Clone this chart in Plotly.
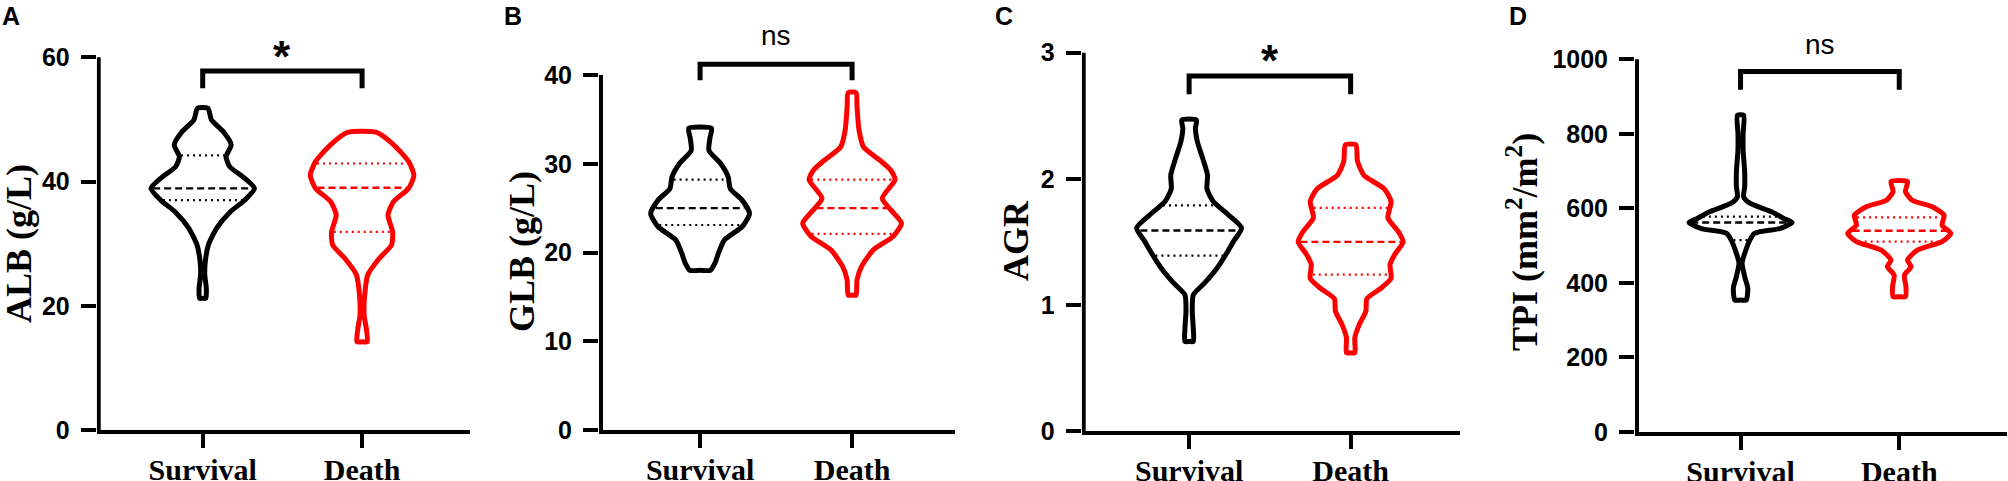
import numpy as np
import plotly.graph_objects as go

W, H = 2008, 481

GROUPS = ['Survival', 'Death']
COLORS = ['#000000', '#ff0000']

# violin outlines: value levels and relative half-width (1 = widest)
ALB_SURV_Y = [21.2, 22.8, 25.0, 27.1, 29.8, 32.5, 35.1, 37.0, 38.9, 40.8, 42.4, 44.0, 45.9, 48.0, 49.9, 51.8]
ALB_SURV_W = [0.06, 0.07, 0.04, 0.05, 0.11, 0.27, 0.53, 0.81, 1.00, 0.77, 0.52, 0.45, 0.55, 0.40, 0.17, 0.10]
ALB_DEATH_Y = [14.2, 16.4, 18.5, 21.7, 25.0, 27.6, 29.8, 31.9, 34.6, 36.8, 38.9, 41.0, 43.2, 45.9, 47.9]
ALB_DEATH_W = [0.10, 0.08, 0.04, 0.05, 0.11, 0.33, 0.57, 0.59, 0.50, 0.61, 0.90, 1.00, 0.90, 0.61, 0.28]
ALB_SURV_Q = [37.0, 38.9, 44.2]
ALB_DEATH_Q = [31.9, 39.0, 42.9]

GLB_SURV_Y = [18.0, 18.8, 19.9, 21.4, 22.9, 24.4, 25.9, 27.2, 28.5, 30.0, 31.5, 32.9, 34.0]
GLB_SURV_W = [0.21, 0.30, 0.37, 0.49, 0.85, 1.00, 0.85, 0.61, 0.57, 0.42, 0.18, 0.20, 0.23]
GLB_DEATH_Y = [15.2, 16.9, 18.4, 20.3, 21.8, 23.3, 24.4, 26.1, 28.2, 29.3, 30.4, 31.9, 33.8, 36.4, 38.0]
GLB_DEATH_W = [0.08, 0.10, 0.19, 0.43, 0.83, 1.00, 0.85, 0.61, 0.87, 0.78, 0.56, 0.23, 0.14, 0.10, 0.08]
GLB_SURV_Q = [23.1, 25.0, 28.2]
GLB_DEATH_Q = [22.1, 25.0, 28.2]

AGR_SURV_Y = [0.71, 0.81, 0.95, 1.08, 1.18, 1.29, 1.40, 1.50, 1.61, 1.71, 1.82, 1.92, 2.03, 2.16, 2.29, 2.40, 2.466]
AGR_SURV_W = [0.08, 0.08, 0.06, 0.08, 0.31, 0.53, 0.70, 0.84, 1.00, 0.76, 0.46, 0.34, 0.35, 0.26, 0.16, 0.12, 0.14]
AGR_DEATH_Y = [0.62, 0.74, 0.84, 0.95, 1.05, 1.13, 1.21, 1.32, 1.40, 1.50, 1.58, 1.69, 1.82, 1.92, 2.03, 2.14, 2.27]
AGR_DEATH_W = [0.08, 0.08, 0.16, 0.29, 0.31, 0.57, 0.77, 0.75, 0.84, 1.00, 0.91, 0.71, 0.77, 0.64, 0.25, 0.13, 0.10]
AGR_SURV_Q = [1.39, 1.59, 1.79]
AGR_DEATH_Q = [1.24, 1.50, 1.77]

TPI_SURV_Y = [354, 386, 417, 453, 479, 515, 533, 546, 562, 573, 591, 614, 631, 658, 698, 757, 801, 850]
TPI_SURV_W = [0.11, 0.14, 0.08, 0.03, 0.08, 0.18, 0.27, 0.76, 1.00, 0.84, 0.60, 0.18, 0.06, 0.08, 0.08, 0.05, 0.05, 0.06]
TPI_DEATH_Y = [363, 390, 421, 444, 461, 488, 511, 533, 555, 582, 605, 622, 645, 672]
TPI_DEATH_W = [0.12, 0.13, 0.10, 0.23, 0.16, 0.35, 0.83, 1.00, 0.83, 0.87, 0.63, 0.25, 0.12, 0.16]
TPI_SURV_Q = [515, 562, 578]
TPI_DEATH_Q = [511, 540, 576]

panels = [
    dict(letter='A', title='ALB (g/L)', ticks=[0, 20, 40, 60], sig='*', bracket=(55.0, 57.8), sig_y=61.7,
         groups=[(ALB_SURV_Y, ALB_SURV_W, ALB_SURV_Q), (ALB_DEATH_Y, ALB_DEATH_W, ALB_DEATH_Q)],
         px=(96.7, 470), bottom=430, ppu=6.212, title_px=(19, 244), letter_x=0),
    dict(letter='B', title='GLB (g/L)', ticks=[0, 10, 20, 30, 40], sig='ns', bracket=(39.4, 41.2), sig_y=44.3,
         groups=[(GLB_SURV_Y, GLB_SURV_W, GLB_SURV_Q), (GLB_DEATH_Y, GLB_DEATH_W, GLB_DEATH_Q)],
         px=(599, 955), bottom=430, ppu=8.875, title_px=(522, 252), letter_x=502),
    dict(letter='C', title='AGR', ticks=[0, 1, 2, 3], sig='*', bracket=(2.67, 2.815), sig_y=3.02,
         groups=[(AGR_SURV_Y, AGR_SURV_W, AGR_SURV_Q), (AGR_DEATH_Y, AGR_DEATH_W, AGR_DEATH_Q)],
         px=(1081.7, 1460), bottom=431, ppu=126.1, title_px=(1016, 241), letter_x=993),
    dict(letter='D', title='TPI (mm<sup>2</sup>/m<sup>2</sup>)', ticks=[0, 200, 400, 600, 800, 1000], sig='ns',
         bracket=(918, 967), sig_y=1038,
         groups=[(TPI_SURV_Y, TPI_SURV_W, TPI_SURV_Q), (TPI_DEATH_Y, TPI_DEATH_W, TPI_DEATH_Q)],
         px=(1635, 2006.7), bottom=432, ppu=0.3727, title_px=(1522, 242), letter_x=1507),
]

XMIN, XMAX = -0.665, 1.677
MAXW = 0.325
SANS = 'Liberation Sans'
SERIF = 'Liberation Serif'
AXW = 4

fig = go.Figure()
shapes = []
annotations = []

for k, p in enumerate(panels):
    n = '' if k == 0 else str(k + 1)
    xa, ya = 'x' + n, 'y' + n

    for i, (vy, vw, q) in enumerate(p['groups']):
        ys = np.array(vy, dtype=float)
        ws = np.array(vw) * MAXW
        xs = np.concatenate([[i], i + ws, i - ws[::-1], [i]])
        yy = np.concatenate([[ys[0]], ys, ys[::-1], [ys[0]]])
        fig.add_trace(go.Scatter(
            x=xs, y=yy, mode='lines', xaxis=xa, yaxis=ya,
            line=dict(color=COLORS[i], width=5, shape='spline', smoothing=0.6),
            hoverinfo='skip'
        ))
        # quartile and median lines
        for j, qv in enumerate(q):
            half = np.interp(qv, ys, ws) - 0.014
            fig.add_trace(go.Scatter(
                x=[i - half, i + half], y=[qv, qv], mode='lines', xaxis=xa, yaxis=ya,
                line=dict(color=COLORS[i], width=2.4 if j == 1 else 2.2,
                          dash='7px,4px' if j == 1 else '2px,4px'),
                hoverinfo='skip'
            ))

    x0, x1 = p['px']
    ppx = (x1 - x0) / (XMAX - XMIN)
    ytop = p['bottom'] / p['ppu']

    fig.layout['xaxis' + n] = dict(
        domain=[x0 / W, x1 / W], range=[XMIN, XMAX], anchor=ya, automargin=False,
        tickvals=[0, 1], ticktext=GROUPS, ticks='outside', ticklen=14, tickwidth=AXW,
        tickcolor='black', showline=True, linewidth=AXW, linecolor='black',
        showgrid=False, zeroline=False, ticklabelstandoff=-4,
        tickfont=dict(family=SERIF, size=30, color='black', weight='bold'),
    )
    fig.layout['yaxis' + n] = dict(
        domain=[(H - p['bottom']) / H, 1], range=[0, ytop], anchor=xa, automargin=False,
        tickvals=p['ticks'], ticks='outside', ticklen=15, tickwidth=AXW, tickcolor='black',
        showline=False, showgrid=False, zeroline=False, ticklabelstandoff=6,
        tickfont=dict(family=SANS, size=25, color='black', weight='bold'),
    )

    # y axis line only up to the last tick
    shapes.append(dict(type='line', xref=xa, yref=ya, x0=XMIN + 2 / ppx, x1=XMIN + 2 / ppx,
                       y0=0, y1=p['ticks'][-1], line=dict(color='black', width=AXW)))
    lo, hi = p['bracket']
    shapes.append(dict(type='path', xref=xa, yref=ya,
                       path=f'M 0,{lo} L 0,{hi} L 1,{hi} L 1,{lo}',
                       line=dict(color='black', width=5)))

    if p['sig'] == '*':
        sig_font = dict(family=SANS, size=44, color='black', weight='bold')
        shift = -10
    else:
        sig_font = dict(family=SANS, size=28, color='black')
        shift = 1
    annotations.append(dict(xref=xa, yref=ya, x=0.5, y=p['sig_y'], text=p['sig'], yshift=shift,
                            showarrow=False, xanchor='center', yanchor='middle', font=sig_font))

    tx, ty = p['title_px']
    annotations.append(dict(xref='paper', yref='paper', x=tx / W, y=1 - ty / H, text=p['title'],
                            textangle=-90, showarrow=False, xanchor='center', yanchor='middle',
                            borderpad=0, font=dict(family=SERIF, size=36, color='black', weight='bold')))
    annotations.append(dict(xref='paper', yref='paper', x=p['letter_x'] / W, y=1, text=p['letter'],
                            showarrow=False, xanchor='left', yanchor='top',
                            font=dict(family=SANS, size=25, color='black', weight='bold')))

fig.update_layout(
    width=W, height=H,
    margin=dict(l=0, r=0, t=0, b=0),
    plot_bgcolor='white', paper_bgcolor='white',
    showlegend=False,
    shapes=shapes, annotations=annotations,
)

# drop the browser's default page margin so the figure sits at the window corner
fig.write_html("out.html", config={'displayModeBar': False},
               post_script="document.body.style.margin = '0';")
